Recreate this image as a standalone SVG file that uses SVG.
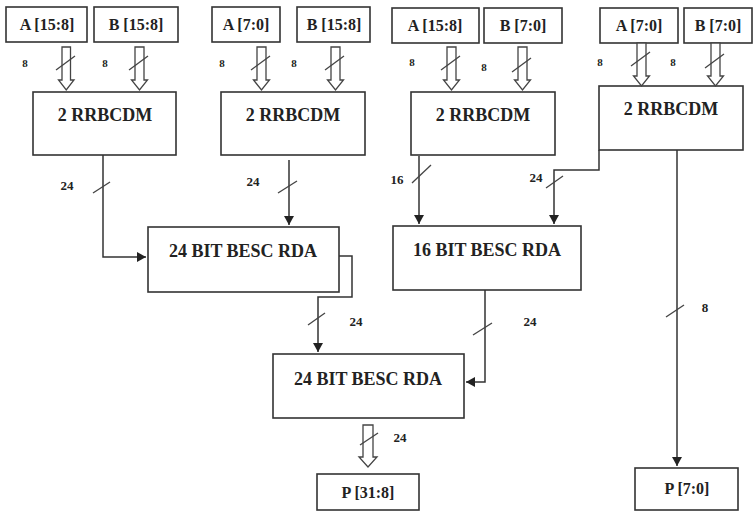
<svg xmlns="http://www.w3.org/2000/svg" width="754" height="514" viewBox="0 0 754 514">
<defs>
<marker id="ah" markerWidth="10" markerHeight="10" refX="9" refY="5" orient="auto" markerUnits="userSpaceOnUse">
<path d="M0,0 L9,5 L0,10 Z" fill="#222"/>
</marker>
<style>
.box{fill:#fff;stroke:#333;stroke-width:1.6}
.t{font-family:"Liberation Serif","Times New Roman",serif;font-weight:bold;fill:#222;text-anchor:middle}
.in{font-size:16px}
.big{font-size:18px}
.lab{font-size:13px}
.sm{font-size:11px}
.w{fill:none;stroke:#333;stroke-width:1.5}
.hol{fill:#fff;stroke:#444;stroke-width:1.3}
.sl{stroke:#444;stroke-width:1.3}
</style>
</defs>
<rect width="754" height="514" fill="#fff"/>

<g id="inA1"><rect class="box" x="6" y="7" width="81" height="35"/><text class="t in" x="47" y="30">A [15:8]</text></g>
<g id="inB1"><rect class="box" x="94" y="7" width="84" height="35"/><text class="t in" x="136" y="30">B [15:8]</text></g>
<g id="inA2"><rect class="box" x="212" y="7" width="68" height="35"/><text class="t in" x="246" y="30">A [7:0]</text></g>
<g id="inB2"><rect class="box" x="297" y="7" width="73" height="35"/><text class="t in" x="334" y="30">B [15:8]</text></g>
<g id="inA3"><rect class="box" x="392" y="8" width="87" height="35"/><text class="t in" x="435" y="31">A [15:8]</text></g>
<g id="inB3"><rect class="box" x="484" y="8" width="78" height="35"/><text class="t in" x="523" y="31">B [7:0]</text></g>
<g id="inA4"><rect class="box" x="600" y="8" width="78" height="35"/><text class="t in" x="639" y="31">A [7:0]</text></g>
<g id="inB4"><rect class="box" x="684" y="8" width="68" height="35"/><text class="t in" x="718" y="31">B [7:0]</text></g>

<g id="m1"><rect class="box" x="33" y="92" width="143" height="63"/><text class="t big" x="105" y="121">2 RRBCDM</text></g>
<g id="m2"><rect class="box" x="221" y="92" width="144" height="63"/><text class="t big" x="293" y="121">2 RRBCDM</text></g>
<g id="m3"><rect class="box" x="411" y="92" width="144" height="63"/><text class="t big" x="483" y="121">2 RRBCDM</text></g>
<g id="m4"><rect class="box" x="599" y="86" width="144" height="64"/><text class="t big" x="671" y="115">2 RRBCDM</text></g>

<g id="rda24a"><rect class="box" x="148" y="227" width="191" height="65"/><text class="t big" x="243" y="257">24 BIT BESC RDA</text></g>
<g id="rda16"><rect class="box" x="393" y="226" width="188" height="64"/><text class="t big" x="487" y="256">16 BIT BESC RDA</text></g>
<g id="rda24b"><rect class="box" x="273" y="354" width="191" height="64"/><text class="t big" x="368" y="385">24 BIT BESC RDA</text></g>

<g id="p318"><rect class="box" x="317" y="474" width="102" height="36"/><text class="t in" x="368" y="498">P [31:8]</text></g>
<g id="p70"><rect class="box" x="635" y="468" width="103" height="42"/><text class="t in" x="687" y="494">P [7:0]</text></g>

<g id="connectors">
<path class="hol" d="M62,47 H70.5 V80 H74 L66.25,90 L58.5,80 H62 Z"/>
<path class="hol" d="M135,47 H144 V80 H147.5 L139.5,90 L131.5,80 H135 Z"/>
<path class="hol" d="M257,47 H266 V80 H269.5 L261.5,90 L253.5,80 H257 Z"/>
<path class="hol" d="M331,47 H340 V80 H343.5 L335.5,90 L327.5,80 H331 Z"/>
<path class="hol" d="M447,47 H456 V80 H459.5 L451.5,90 L443.5,80 H447 Z"/>
<path class="hol" d="M518,47 H527 V80 H530.5 L522.5,90 L514.5,80 H518 Z"/>
<path class="hol" d="M637,43 H646 V76 H649.5 L641.5,86 L633.5,76 H637 Z"/>
<path class="hol" d="M711,43 H720 V76 H723.5 L715.5,86 L707.5,76 H711 Z"/>
<path class="hol" d="M363,425 H373 V457 H377 L368,467 L359,457 H363 Z"/>

<line class="sl" x1="56" y1="70" x2="75" y2="56"/>
<line class="sl" x1="129" y1="70" x2="148" y2="56"/>
<line class="sl" x1="251" y1="70" x2="270" y2="56"/>
<line class="sl" x1="325" y1="70" x2="344" y2="56"/>
<line class="sl" x1="441" y1="70" x2="460" y2="56"/>
<line class="sl" x1="512" y1="72" x2="531" y2="58"/>
<line class="sl" x1="631" y1="66" x2="650" y2="52"/>
<line class="sl" x1="705" y1="68" x2="724" y2="54"/>
<line class="sl" x1="360" y1="445" x2="378" y2="433"/>

<path class="w" d="M103,155 V257 H146" marker-end="url(#ah)"/>
<path class="w" d="M289,160 V225" marker-end="url(#ah)"/>
<path class="w" d="M419,156 V224" marker-end="url(#ah)"/>
<path class="w" d="M599,150 V170 H554 V224" marker-end="url(#ah)"/>
<path class="w" d="M339,256 H352 V297 H318 V352" marker-end="url(#ah)"/>
<path class="w" d="M485,290 V382 H466" marker-end="url(#ah)"/>
<path class="w" d="M677,150 V466" marker-end="url(#ah)"/>

<line class="sl" x1="93" y1="193" x2="110" y2="182"/>
<line class="sl" x1="278" y1="193" x2="297" y2="181"/>
<line class="sl" x1="412" y1="183" x2="431" y2="165"/>
<line class="sl" x1="546" y1="188" x2="563" y2="176"/>
<line class="sl" x1="308" y1="325" x2="325" y2="313"/>
<line class="sl" x1="473" y1="335" x2="492" y2="323"/>
<line class="sl" x1="666" y1="317" x2="684" y2="305"/>
</g>

<g id="labels">
<text class="t sm" x="25" y="67">8</text>
<text class="t sm" x="105" y="67">8</text>
<text class="t sm" x="222" y="67">8</text>
<text class="t sm" x="294" y="67">8</text>
<text class="t sm" x="412" y="66">8</text>
<text class="t sm" x="484" y="71">8</text>
<text class="t sm" x="600" y="66">8</text>
<text class="t sm" x="673" y="66">8</text>
<text class="t lab" x="67" y="190">24</text>
<text class="t lab" x="253" y="186">24</text>
<text class="t lab" x="397" y="184">16</text>
<text class="t lab" x="536" y="182">24</text>
<text class="t lab" x="356" y="326">24</text>
<text class="t lab" x="530" y="326">24</text>
<text class="t lab" x="705" y="312">8</text>
<text class="t lab" x="400" y="442">24</text>
</g>
</svg>
